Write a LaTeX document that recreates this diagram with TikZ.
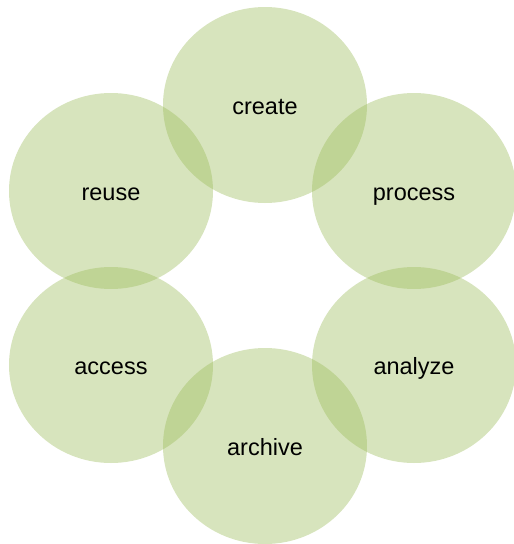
\documentclass[tikz,border=0pt]{standalone}
\usepackage{fontspec}
\setmainfont{Liberation Sans}
\usetikzlibrary{shapes.geometric}
\definecolor{ringgreen}{HTML}{9BBB59}
\begin{document}
\begin{tikzpicture}[x=1pt,y=-1pt,
  stage/.style={ellipse, inner sep=0pt, minimum width=204pt, minimum height=196pt,
    fill=ringgreen, fill opacity=0.4, text opacity=1, text=black,
    text height=19pt, text depth=0pt,
    font=\fontsize{23.5}{28}\selectfont}]
\useasboundingbox (0,0) rectangle (514,544);
\node[stage] (create)  at (265,105) {create};
\node[stage] (process) at (414,191) {process};
\node[stage] (analyze) at (414,365) {analyze};
\node[stage] (archive) at (265,446) {archive};
\node[stage] (access)  at (111,365) {access};
\node[stage] (reuse)   at (111,191) {reuse};
\end{tikzpicture}
\end{document}
